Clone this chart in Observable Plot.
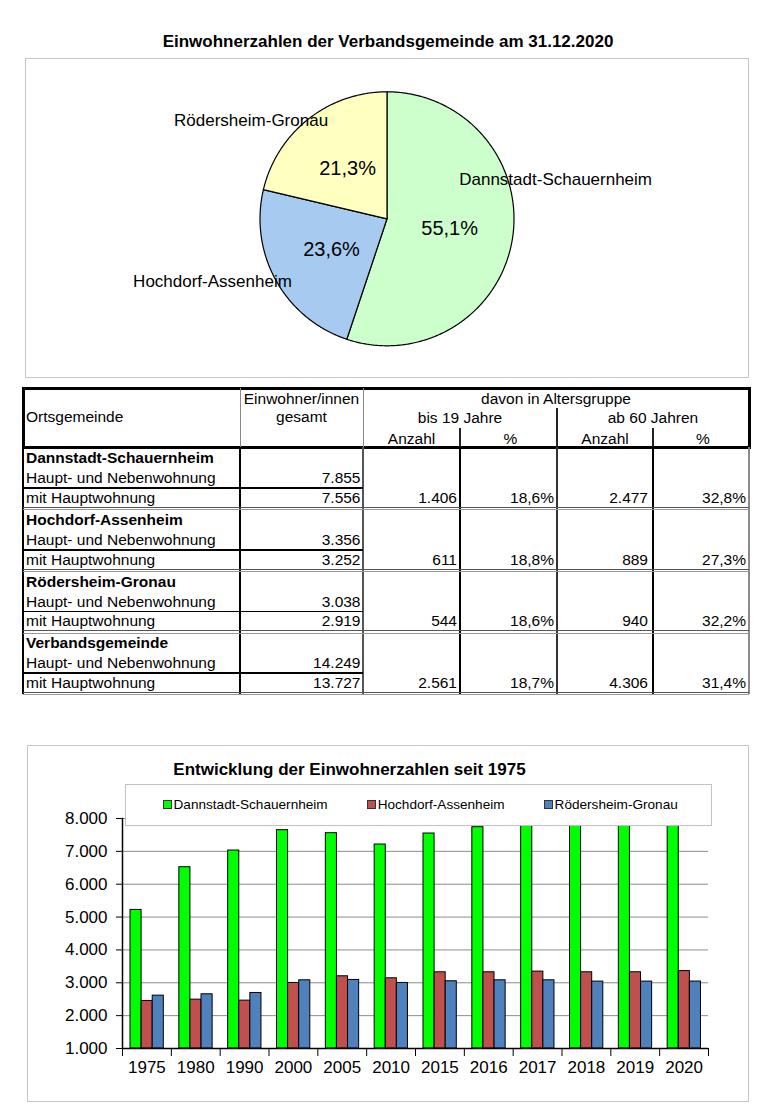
<!DOCTYPE html>
<html>
<head>
<meta charset="utf-8">
<script src="https://cdn.jsdelivr.net/npm/d3@7"></script>
<script src="https://cdn.jsdelivr.net/npm/@observablehq/plot@0.6"></script>
<style>
html,body{margin:0;padding:0;background:#fff;}
body{width:780px;height:1105px;position:relative;overflow:hidden;font-family:"Liberation Sans",Arial,sans-serif;color:#000;}
.abs{position:absolute;}
.box{position:absolute;box-sizing:border-box;border:1.5px solid #c6c6c6;background:#fff;}
.t{position:absolute;height:20px;line-height:20px;font-size:15.5px;white-space:nowrap;}
.ln{position:absolute;}
#legend{position:absolute;box-sizing:border-box;left:124.5px;top:783.5px;width:587px;height:42px;border:1px solid #c2c2c2;background:#fff;z-index:3;display:flex;align-items:center;padding-left:37px;gap:39px;font-size:13.6px;}
#legend .it{display:flex;align-items:center;gap:2px;}
#legend .sw{width:7px;height:7px;border:1px solid #333;display:inline-block;}
svg{overflow:visible;}
</style>
</head>
<body>
<script>
// ---------------- DATA ----------------
// Pie / table: Ortsgemeinden
const orte = ["Dannstadt-Schauernheim", "Hochdorf-Assenheim", "Rödersheim-Gronau", "Verbandsgemeinde"];
const hauptNeben = [7855, 3356, 3038, 14249];
const mitHaupt = [7556, 3252, 2919, 13727];
const bis19Anzahl = [1406, 611, 544, 2561];
const bis19Pct = [18.6, 18.8, 18.6, 18.7];
const ab60Anzahl = [2477, 889, 940, 4306];
const ab60Pct = [32.8, 27.3, 32.2, 31.4];

// Bar chart: Entwicklung seit 1975
const years = ["1975", "1980", "1990", "2000", "2005", "2010", "2015", "2016", "2017", "2018", "2019", "2020"];
const seriesNames = ["Dannstadt-Schauernheim", "Hochdorf-Assenheim", "Rödersheim-Gronau"];
const dannstadt = [5218, 6518, 7025, 7645, 7553, 7208, 7543, 7736, 7790, 7820, 7840, 7855];
const hochdorf = [2447, 2487, 2457, 2995, 3198, 3137, 3320, 3320, 3340, 3320, 3320, 3356];
const roedersheim = [2609, 2650, 2690, 3076, 3086, 2995, 3046, 3076, 3076, 3036, 3036, 3038];
const yTicks = [1000, 2000, 3000, 4000, 5000, 6000, 7000, 8000];

// ---------------- STYLE ----------------
const FONT = '"Liberation Sans", Arial, sans-serif';
const pieColors = ["#CCFFCC", "#A6CAF0", "#FFFFC0"];
const barColors = ["#00FF00", "#C0504D", "#4F81BD"];
const loc = d3.formatLocale({decimal: ",", thousands: ".", grouping: [3], currency: ["", "€"]});
const fmtInt = loc.format(",d");
const fmt1 = loc.format(".1f");

function el(tag, cls, parent = document.body) {
  const e = document.createElement(tag);
  if (cls) e.className = cls;
  parent.appendChild(e);
  return e;
}
function place(e, css) { Object.assign(e.style, css); return e; }

// ---------------- PIE ----------------
const title1 = place(el("div", "abs"), {left: "0px", width: "776px", top: "32px", lineHeight: "20px", textAlign: "center", fontWeight: "bold", fontSize: "17px"});
title1.textContent = "Einwohnerzahlen der Verbandsgemeinde am 31.12.2020";
place(el("div", "box"), {left: "25px", top: "57.5px", width: "724px", height: "320px"});

const PIE = {left: 26, top: 59, width: 722, height: 317, cx: 360.5, cy: 159.3, r: 127};
const pieData = seriesNames.map((name, i) => ({name, value: hauptNeben[i], color: pieColors[i]}));
const total = d3.sum(pieData, d => d.value);
const arcs = d3.pie().sort(null).value(d => d.value)(pieData);
const NAME_LABEL = { // layout: angle shift (deg) from slice middle, radius (in pie radii)
  "Dannstadt-Schauernheim": {shift: -22.3, r: 1.363},
  "Hochdorf-Assenheim": {shift: 9.4, r: 1.46},
  "Rödersheim-Gronau": {shift: -15.8, r: 1.32}
};
const sliceMarks = arcs.map(a => {
  const pts = [{x: 0, y: 0}];
  const n = Math.max(2, Math.ceil((a.endAngle - a.startAngle) / (Math.PI / 360)));
  for (let i = 0; i <= n; i++) {
    const t = a.startAngle + (a.endAngle - a.startAngle) * i / n;
    pts.push({x: Math.sin(t), y: Math.cos(t)});
  }
  pts.push({x: 0, y: 0});
  return Plot.line(pts, {x: "x", y: "y", fill: a.data.color, stroke: "#000", strokeWidth: 1.2, strokeLinejoin: "round", curve: "linear"});
});
const pctLabels = arcs.map(a => {
  const m = (a.startAngle + a.endAngle) / 2;
  return {x: 0.5 * Math.sin(m), y: 0.5 * Math.cos(m), text: fmt1(100 * a.data.value / total) + "%"};
});
const nameLabels = arcs.map(a => {
  const L = NAME_LABEL[a.data.name];
  const m = (a.startAngle + a.endAngle) / 2 + L.shift * Math.PI / 180;
  return {x: L.r * Math.sin(m), y: L.r * Math.cos(m), text: a.data.name};
});
const pie = Plot.plot({
  width: PIE.width, height: PIE.height, margin: 0,
  style: {fontFamily: FONT, background: "transparent", color: "#000", overflow: "visible"},
  x: {domain: [-PIE.cx / PIE.r, (PIE.width - PIE.cx) / PIE.r], axis: null},
  y: {domain: [-(PIE.height - PIE.cy) / PIE.r, PIE.cy / PIE.r], axis: null},
  marks: [
    ...sliceMarks,
    Plot.text(pctLabels, {x: "x", y: "y", text: "text", fontSize: 20, fill: "#000"}),
    Plot.text(nameLabels, {x: "x", y: "y", text: "text", fontSize: 17, fill: "#000"})
  ]
});
place(pie, {position: "absolute", left: PIE.left + "px", top: PIE.top + "px"});
document.body.appendChild(pie);

// ---------------- TABLE ----------------
const X = [23, 240, 363, 460, 557, 653, 749];
const HY = [388, 408, 428, 447];
const groupTop = [447, 509, 570.5, 632];
const groupH = 61.5;

function line(x1, y1, x2, y2, color, w) {
  const e = el("div", "ln");
  if (x1 === x2) place(e, {left: (x1 - w / 2) + "px", top: y1 + "px", width: w + "px", height: (y2 - y1) + "px", background: color});
  else place(e, {left: x1 + "px", top: (y1 - w / 2) + "px", width: (x2 - x1) + "px", height: w + "px", background: color});
}
function text(str, mode, x, cy, bold) {
  const e = el("div", "t");
  e.textContent = str;
  const css = {top: (cy - 10) + "px"};
  if (mode === "left") { css.left = x + "px"; }
  else if (mode === "right") { css.left = (x - 200) + "px"; css.width = "200px"; css.textAlign = "right"; }
  else { css.left = (x - 150) + "px"; css.width = "300px"; css.textAlign = "center"; }
  if (bold) css.fontWeight = "bold";
  place(e, css);
}
// header
place(el("div", "abs"), {left: "21.5px", top: "386.5px", width: "729px", height: "62px", boxSizing: "border-box", border: "3px solid #000"});
line(X[1], HY[0], X[1], HY[3], "#8a8a8a", 1);
line(X[2], HY[0], X[2], HY[3], "#8a8a8a", 1);
line(X[4], HY[1], X[4], HY[3], "#222", 1.2);
line(X[3], HY[2], X[3], HY[3], "#222", 1.2);
line(X[5], HY[2], X[5], HY[3], "#222", 1.2);
text("Ortsgemeinde", "left", 26, 417);
text("Einwohner/innen", "center", (X[1] + X[2]) / 2, 399);
text("gesamt", "center", (X[1] + X[2]) / 2, 417);
text("davon in Altersgruppe", "center", (X[2] + X[6]) / 2, 399);
text("bis 19 Jahre", "center", (X[2] + X[4]) / 2, 418);
text("ab 60 Jahren", "center", (X[4] + X[6]) / 2, 418);
["Anzahl", "%", "Anzahl", "%"].forEach((s, i) => text(s, "center", (X[2 + i] + X[3 + i]) / 2 + (s === "%" ? 2 : 0), 438.5));
// body lines
const bodyTop = HY[3], bodyBot = groupTop[3] + groupH;
line(X[0], bodyTop, X[0], bodyBot, "#000", 2.5);
line(X[1], bodyTop, X[1], bodyBot, "#000", 2);
line(X[2], bodyTop, X[2], bodyBot, "#555", 1.2);
line(X[3], bodyTop, X[3], bodyBot, "#000", 1.2);
line(X[4], bodyTop, X[4], bodyBot, "#333", 1.2);
line(X[5], bodyTop, X[5], bodyBot, "#000", 1.2);
line(X[6], bodyTop, X[6], bodyBot, "#8a8a8a", 1.5);
orte.forEach((name, g) => {
  const top = groupTop[g];
  const bot = top + groupH;
  line(X[0], bot - 1.5, X[6], bot - 1.5, "#555", 1);
  line(X[0], bot + 1, X[6], bot + 1, "#9a9a9a", 1);
  line(X[0], top + 41, X[2], top + 41, "#000", 1.5);
  text(name, "left", 26, top + 11, true);
  text("Haupt- und Nebenwohnung", "left", 26, top + 31);
  text("mit Hauptwohnung", "left", 26, top + 50.5);
  text(fmtInt(hauptNeben[g]), "right", X[2] - 2.5, top + 31);
  text(fmtInt(mitHaupt[g]), "right", X[2] - 2.5, top + 50.5);
  text(fmtInt(bis19Anzahl[g]), "right", X[3] - 3, top + 50.5);
  text(fmt1(bis19Pct[g]) + "%", "right", X[4] - 3, top + 50.5);
  text(fmtInt(ab60Anzahl[g]), "right", X[5] - 5, top + 50.5);
  text(fmt1(ab60Pct[g]) + "%", "right", X[6] - 3, top + 50.5);
});

// ---------------- BAR CHART ----------------
place(el("div", "box"), {left: "26.5px", top: "744.5px", width: "722px", height: "357px"});
const title2 = place(el("div", "abs"), {left: "149.5px", width: "400px", top: "760px", lineHeight: "20px", textAlign: "center", fontWeight: "bold", fontSize: "17px"});
title2.textContent = "Entwicklung der Einwohnerzahlen seit 1975";

const legend = el("div");
legend.id = "legend";
seriesNames.forEach((s, i) => {
  const it = el("div", "it", legend);
  const sw = el("span", "sw", it);
  sw.style.background = barColors[i];
  const tx = el("span", "", it);
  tx.textContent = s;
});

const BAR = {left: 27, top: 800, width: 700, height: 285, ml: 95, mr: 19, mt: 18, mb: 37};
const plotW = BAR.width - BAR.ml - BAR.mr;
const plotH = BAR.height - BAR.mt - BAR.mb;
const bw = plotW / years.length;
const groupStart = 8, barW = 11.1;
const tickLenData = 8 * (yTicks[yTicks.length - 1] - yTicks[0]) / plotH;
const seriesValues = [dannstadt, hochdorf, roedersheim];
const barMarks = seriesValues.map((vals, i) => {
  const rows = years.map((y, j) => ({year: y, value: vals[j]}));
  const l = groupStart + i * barW;
  return Plot.barY(rows, {
    x: "year", y1: () => yTicks[0], y2: "value",
    fill: barColors[i], stroke: "#000", strokeWidth: 1,
    insetLeft: l, insetRight: bw - l - barW
  });
});
const bars = Plot.plot({
  width: BAR.width, height: BAR.height,
  marginLeft: BAR.ml, marginRight: BAR.mr, marginTop: BAR.mt, marginBottom: BAR.mb,
  style: {fontFamily: FONT, fontSize: "17px", color: "#000", background: "transparent", overflow: "visible"},
  x: {type: "band", domain: years, padding: 0, round: false, axis: null, label: null},
  y: {domain: [yTicks[0], yTicks[yTicks.length - 1]], axis: null, label: null},
  marks: [
    Plot.gridY(yTicks.slice(1), {stroke: "#8c8c8c", strokeOpacity: 1, strokeWidth: 1}),
    ...barMarks,
    Plot.ruleY([yTicks[0]], {stroke: "#000", strokeWidth: 1.5}),
    Plot.frame({anchor: "left", stroke: "#000", strokeWidth: 1.5}),
    Plot.axisY(yTicks, {anchor: "left", label: null, tickFormat: fmtInt, tickSize: 6, tickPadding: 9, fontSize: 17, stroke: "#000"}),
    Plot.axisX({label: null, tickSize: 0, tickPadding: 12, fontSize: 17}),
    Plot.ruleX(years, {x: d => d, dx: -bw / 2, y1: () => yTicks[0], y2: () => yTicks[0] - tickLenData, stroke: "#000", strokeWidth: 1}),
    Plot.ruleX([years[years.length - 1]], {x: d => d, dx: bw / 2, y1: () => yTicks[0], y2: () => yTicks[0] - tickLenData, stroke: "#000", strokeWidth: 1})
  ]
});
place(bars, {position: "absolute", left: BAR.left + "px", top: BAR.top + "px", zIndex: 1});
document.body.appendChild(bars);
</script>
</body>
</html>
